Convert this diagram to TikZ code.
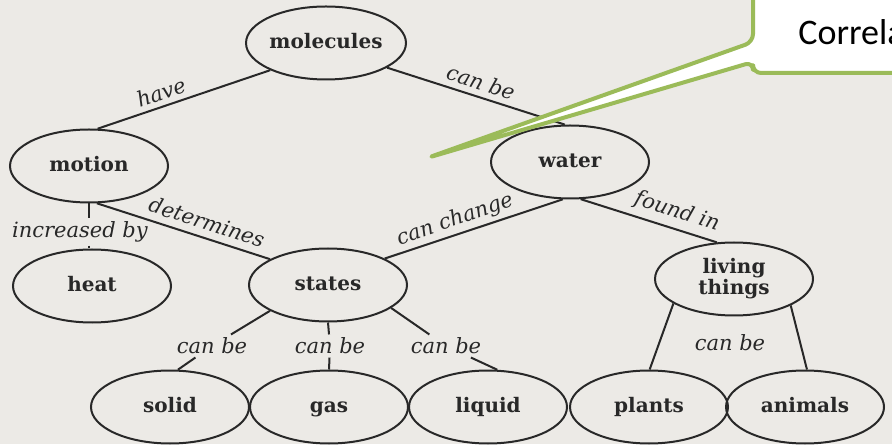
\documentclass[tikz,border=0pt]{standalone}
\usepackage{fontspec}
\setmainfont{DejaVu Serif}
\newfontfamily\calloutfont{Carlito}
\usepackage{tikz}
\usetikzlibrary{shapes.geometric}
\usepackage{xcolor}
\definecolor{pagebg}{RGB}{236, 234, 230}
\definecolor{inkgray}{RGB}{40, 40, 40}
\definecolor{callgreen}{RGB}{155, 187, 89}

\begin{document}
\begin{tikzpicture}[x=0.5pt, y=0.5pt,
  conceptshape/.style={ellipse, draw=inkgray, line width=1pt, minimum width=79pt,
    minimum height=36.5pt, inner sep=0pt, align=center, text=inkgray,
    font=\fontsize{10}{10.5}\selectfont\bfseries},
  concept/.style={conceptshape, text height=7.5pt, text depth=2pt},
  linkword/.style={inner sep=1.5pt, text=inkgray, font=\fontsize{10.5}{12}\selectfont\itshape},
  link/.style={draw=inkgray, line width=1pt}]
  \useasboundingbox (0,0) rectangle (892,444);
  \clip (0,0) rectangle (892,444);
  \fill[pagebg] (0,0) rectangle (892,444);

  % Concepts
  \node[concept] (molecules) at (326,401) {molecules};
  \node[concept] (motion) at (89,278) {motion};
  \node[concept] (water) at (570,282) {water};
  \node[concept] (heat) at (92,158) {heat};
  \node[concept] (states) at (328,159) {states};
  \node[conceptshape] (living) at (734,165) {living\\things};
  \node[concept] (solid) at (170,37) {solid};
  \node[concept] (gas) at (329,37) {gas};
  \node[concept] (liquid) at (488,37) {liquid};
  \node[concept] (plants) at (649,37) {plants};
  \node[concept] (animals) at (805,37) {animals};

  % Linking words
  \node[linkword, rotate=19] (lhave) at (161,352) {have};
  \node[linkword, rotate=-18] (lcanbeW) at (481,362) {can be};
  \node[linkword, rotate=-18] (ldetermines) at (207,222) {determines};
  \node[linkword, rotate=19] (lcanchange) at (455,224) {can change};
  \node[linkword, rotate=-18] (lfoundin) at (677,232) {found in};
  \node[linkword] (lincreased) at (80,212) {increased by};
  \node[linkword] (lcanbeS) at (212,98) {can be};
  \node[linkword] (lcanbeG) at (330,98) {can be};
  \node[linkword] (lcanbeL) at (446,98) {can be};
  \node[linkword] (lcanbeP) at (730,101) {can be};

  % Links
  \draw[link] (molecules.206) -- (motion.77);
  \draw[link] (molecules.338) -- (water.98);
  \draw[link] (motion.282) -- (states.156);
  \draw[link] (water.259) -- (states.25);
  \draw[link] (water.286) -- (living.115);
  \draw[link] (motion.south) -- (motion.south |- lincreased.north);
  \draw[link] (motion.south |- lincreased.south) -- (motion.south |- heat.north);
  \draw[link] (states.204) -- (lcanbeS);
  \draw[link] (lcanbeS) -- (solid.78);
  \draw[link] (states.south) -- (lcanbeG);
  \draw[link] (lcanbeG) -- (gas.north);
  \draw[link] (states.340) -- (lcanbeL);
  \draw[link] (lcanbeL) -- (liquid.76);
  \draw[link] (living.202) -- (plants.89);
  \draw[link] (living.335) -- (animals.87);

  % Green callout on top
  \draw[callgreen, line width=2pt, fill=white, line join=round, rounded corners=4pt]
    (427,286) -- (753,402) -- (753,470) -- (960,470) -- (960,371) -- (753,371) -- (753,382) -- cycle;
  \node[font=\calloutfont\fontsize{18}{21}\selectfont, anchor=base west, inner sep=0pt]
    (callouttext) at (798,399) {Correlation};
\end{tikzpicture}
\end{document}
